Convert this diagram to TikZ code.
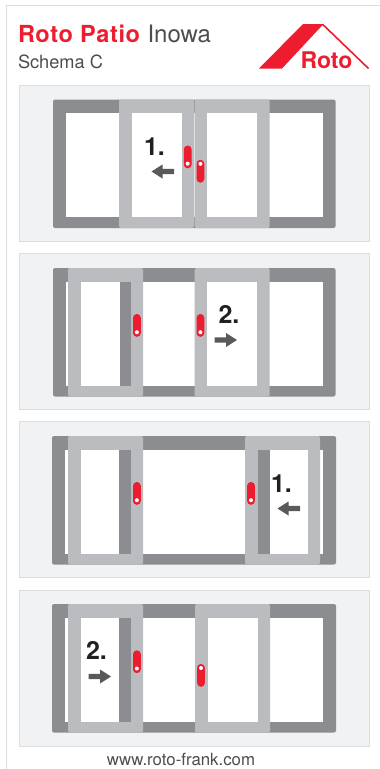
\documentclass[tikz,border=0pt]{standalone}
\usepackage{fontspec}
\setmainfont{TeX Gyre Heros}
\definecolor{rotored}{HTML}{ED1C2E}
\definecolor{framegray}{HTML}{8C8D90}
\definecolor{sashgray}{HTML}{BBBCBF}
\definecolor{panelfill}{HTML}{F1F2F4}
\definecolor{panelline}{HTML}{DCDDDF}
\definecolor{arrowgray}{HTML}{58595B}
\definecolor{inktext}{HTML}{231F20}
\definecolor{softtext}{HTML}{4D4D4F}
\tikzset{
  paneltile/.style={fill=panelfill,draw=panelline,line width=1pt},
  frameshape/.style={fill=framegray,rounded corners=2pt},
  sashshape/.style={fill=sashgray,rounded corners=2pt},
  glass/.style={fill=white},
  handlebar/.style={fill=rotored,rounded corners=3.8pt},
  label/.style={anchor=base west,inner sep=0pt,outer sep=0pt},
  steplabel/.style={label,text=inktext,font=\fontsize{25}{25}\selectfont\bfseries},
  movearrow/.style={fill=arrowgray}
}
% frame: x0 x1 ytop
\newcommand{\winframe}[3]{%
  \fill[frameshape] (#1,#3) rectangle (#2,#3+128.5);
  \fill[glass] (#1+13,#3+13.5) rectangle (#2-13,#3+117.5);}
% sash: x ytop
\newcommand{\winsash}[2]{%
  \fill[sashshape] (#1,#2) rectangle (#1+75,#2+128.5);
  \fill[glass] (#1+12.5,#2+13.5) rectangle (#1+62.5,#2+117.5);}
% dark rail seen through the glass: x0 x1 ytop
\newcommand{\winrail}[3]{%
  \fill[framegray] (#1,#3+13.5) rectangle (#2,#3+117.5);}
% handle: cx ytop dotoffset
\newcommand{\winhandle}[3]{%
  \path[handlebar] (#1-3.9,#2) rectangle (#1+3.9,#2+22.8);
  \fill[white] (#1,#2+#3) circle (2);}
% arrows: tip x, y
\newcommand{\arrowleft}[2]{%
  \fill[movearrow] (#1,#2) -- (#1+11,#2-7) -- (#1+11,#2-2.6) -- (#1+22.5,#2-2.6) -- (#1+22.5,#2+2.6) -- (#1+11,#2+2.6) -- (#1+11,#2+7) -- cycle;}
\newcommand{\arrowright}[2]{%
  \fill[movearrow] (#1,#2) -- (#1-11,#2-7) -- (#1-11,#2-2.6) -- (#1-22.5,#2-2.6) -- (#1-22.5,#2+2.6) -- (#1-11,#2+2.6) -- (#1-11,#2+7) -- cycle;}
\begin{document}
\begin{tikzpicture}[x=1pt,y=-1pt]
\useasboundingbox (0,0) rectangle (380,769);
\fill[white] (0,0) rectangle (380,769);
% page border
\draw[panelline,line width=1.5pt] (6.5,769) -- (6.5,5.5) -- (380,5.5);
% header
\node[label,text=rotored,font=\fontsize{23.5}{23.5}\selectfont\bfseries] (title) at (18,42.7) {\addfontfeature{LetterSpace=2.8}Roto Patio};
\node[label,text=softtext,font=\fontsize{24}{24}\selectfont] (model) at (147.5,42.7) {Inowa};
\node[label,text=softtext,font=\fontsize{18.2}{18.2}\selectfont] (schema) at (18,68.7) {Schema C};
% logo
\fill[rotored] (259,68.5) -- (303,24) -- (323.5,24) -- (282,68.5) -- cycle;
\draw[rotored,line width=1.6pt] (322.5,24.2) -- (368.5,68.5);
\node[label,text=rotored,font=\fontsize{23}{23}\selectfont\bfseries] (logotext) at (300.5,68.2) {Roto};
% panel 1
\draw[paneltile] (19.5,85.5) rectangle (369,241);
\winframe{53}{335.5}{99.5}
\winsash{119}{99.5}
\winsash{194.7}{99.5}
\winhandle{187.7}{145.5}{18.2}
\winhandle{200.4}{159.8}{4}
\node[steplabel] (stepa) at (144,155) {1.};
\arrowleft{151.5}{171.5}
% panel 2
\draw[paneltile] (19.5,253.5) rectangle (369,409);
\winframe{53}{335.5}{268}
\winsash{68}{268}
\winrail{119.5}{130.5}{268}
\winsash{194.7}{268}
\winhandle{136.9}{314}{18.2}
\winhandle{200.4}{314}{18.2}
\node[steplabel] (stepb) at (218.5,323) {2.};
\arrowright{237}{340}
% panel 3
\draw[paneltile] (19.5,421.5) rectangle (369,577);
\winframe{52}{336}{436}
\winsash{68}{436}
\winrail{118.7}{130.5}{436}
\winsash{245}{436}
\winrail{257.5}{269.7}{436}
\winhandle{136.9}{482}{18.2}
\winhandle{251}{482}{18.2}
\node[steplabel] (stepc) at (271,492) {1.};
\arrowleft{277.5}{508.5}
% panel 4
\draw[paneltile] (19.5,590) rectangle (369,746);
\winframe{52}{336}{604}
\winsash{68}{604}
\winrail{118.7}{130.5}{604}
\winsash{195}{604}
\winhandle{136.9}{650.3}{18.2}
\winhandle{201}{664}{4}
\node[steplabel] (stepd) at (86,659) {2.};
\arrowright{111}{676.5}
% footer
\node[anchor=base,inner sep=0pt,text=softtext,font=\fontsize{16.8}{16.8}\selectfont] (url) at (181,765) {www.roto-frank.com};
\end{tikzpicture}
\end{document}
